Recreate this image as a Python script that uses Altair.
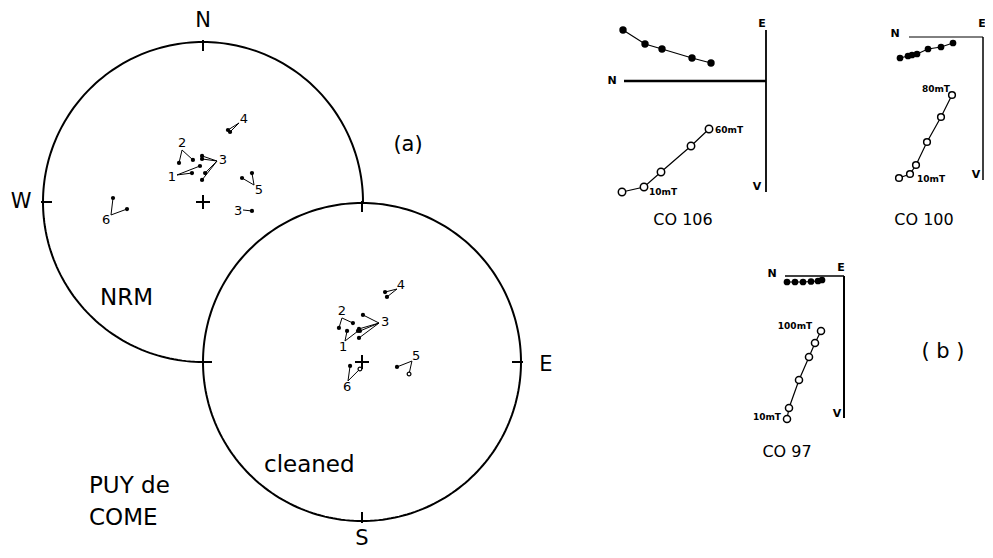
import numpy as np
import pandas as pd
import altair as alt

FONT = "DejaVu Sans"

# ---------------- Stereonet data (equal-area, unit radius; x = east, y = north) ----------------
# NRM directions
nrm_pt_site = ["1", "1", "2", "2", "3", "3", "3", "3", "4", "4", "5", "5", "3b", "6", "6"]
nrm_pt_x = [-0.069, -0.019, -0.150, -0.063, -0.006, -0.006, 0.013, -0.006, 0.156, 0.169, 0.244, 0.306, 0.306, -0.5625, -0.475]
nrm_pt_y = [0.181, 0.225, 0.244, 0.263, 0.288, 0.269, 0.181, 0.138, 0.450, 0.4375, 0.150, 0.181, -0.056, 0.025, -0.044]
nrm_pt_up = [False] * 15

# Cleaned directions
cln_pt_site = ["1", "1", "2", "2", "3", "3", "3", "3", "4", "4", "5", "5", "6", "6"]
cln_pt_x = [-0.094, -0.025, -0.145, -0.057, 0.006, -0.019, -0.013, -0.019, 0.145, 0.157, 0.220, 0.296, -0.075, -0.013]
cln_pt_y = [0.195, 0.195, 0.214, 0.245, 0.296, 0.208, 0.195, 0.151, 0.440, 0.409, -0.031, -0.075, -0.025, -0.044]
cln_pt_up = [False] * 11 + [True, False, True]

# Site labels (placement in net units) and leader-line ends
nrm_sites = ["1", "2", "3", "4", "5", "3b", "6"]
nrm_site_text = ["1", "2", "3", "4", "5", "3", "6"]
nrm_lab_x = [-0.194, -0.131, 0.125, 0.256, 0.350, 0.219, -0.606]
nrm_lab_y = [0.156, 0.369, 0.2625, 0.519, 0.075, -0.056, -0.1125]
nrm_end_x = [-0.1625, -0.131, 0.0875, 0.225, 0.319, 0.250, -0.575]
nrm_end_y = [0.169, 0.325, 0.256, 0.494, 0.106, -0.050, -0.081]

cln_sites = ["1", "2", "3", "4", "5", "6"]
cln_site_text = ["1", "2", "3", "4", "5", "6"]
cln_lab_x = [-0.119, -0.126, 0.145, 0.245, 0.340, -0.094]
cln_lab_y = [0.094, 0.321, 0.252, 0.484, 0.038, -0.157]
cln_end_x = [-0.107, -0.126, 0.107, 0.220, 0.314, -0.088]
cln_end_y = [0.132, 0.277, 0.245, 0.459, 0.006, -0.119]

# ---------------- Zijderveld data (arbitrary units) ----------------
co106_hN = [14.3, 12.1, 10.4, 7.4, 5.5]
co106_hE = [5.1, 3.7, 3.2, 2.3, 1.8]
co106_vN = [14.4, 12.2, 10.5, 7.5, 5.7]
co106_vD = [11.1, 10.6, 9.1, 6.5, 4.8]

co100_hN = [8.3, 7.5, 7.1, 6.6, 5.5, 4.2, 3.0]
co100_hE = [-2.1, -1.9, -1.8, -1.7, -1.2, -1.0, -0.6]
co100_vN = [8.4, 7.3, 6.7, 5.6, 4.2, 3.1]
co100_vD = [14.1, 13.7, 12.8, 10.5, 8.0, 5.8]

co97_hN = [5.7, 4.9, 4.1, 3.3, 2.6, 2.2]
co97_hE = [-0.6, -0.6, -0.6, -0.55, -0.5, -0.4]
co97_vN = [5.7, 5.5, 4.5, 3.5, 2.9, 2.3]
co97_vD = [14.3, 13.2, 10.4, 8.1, 6.7, 5.5]

# ---------------- Layout ----------------
NETS = {"NRM": (203, 202, 160), "cleaned": (362, 362, 159)}
K = 10  # px per Zijderveld unit
ZIJ = [
    dict(name="CO106", ox=766, oy=81, hN=co106_hN, hE=co106_hE, vN=co106_vN, vD=co106_vD,
         axN=14.2, axTop=5.1, axBot=11.1, wH=2.6, wV=1.8, hs=55, vs=55),
    dict(name="CO100", ox=983, oy=37, hN=co100_hN, hE=co100_hE, vN=co100_vN, vD=co100_vD,
         axN=7.4, axTop=0.0, axBot=14.3, wH=1.0, wV=1.5, hs=45, vs=45),
    dict(name="CO97", ox=844, oy=276, hN=co97_hN, hE=co97_hE, vN=co97_vN, vD=co97_vD,
         axN=5.9, axTop=0.0, axBot=14.2, wH=1.6, wV=2.0, hs=45, vs=50),
]

XS = alt.Scale(domain=[8, 985], nice=False, zero=False)
YS = alt.Scale(domain=[8, 550], nice=False, zero=False, reverse=True)


def P():
    return dict(x=alt.X("x:Q", scale=XS, axis=None), y=alt.Y("y:Q", scale=YS, axis=None))


def R2():
    return dict(x=alt.X("x:Q", scale=XS, axis=None), y=alt.Y("y:Q", scale=YS, axis=None),
                x2="x2:Q", y2="y2:Q", strokeWidth=alt.StrokeWidth("w:Q", scale=None))


def to_px(net, u, v):
    cx, cy, r = NETS[net]
    return cx + r * np.asarray(u), cy - r * np.asarray(v)


# circles
circ_rows = []
for net, a1 in [("NRM", 270), ("cleaned", 360)]:
    cx, cy, r = NETS[net]
    for i, a in enumerate(np.arange(0, a1 + 0.1, 1.5)):
        t = np.radians(a)
        circ_rows.append((net, i, cx + r * np.cos(t), cy - r * np.sin(t)))
circ = pd.DataFrame(circ_rows, columns=["net", "i", "x", "y"])

# ticks and centre crosses
rule_rows = []
for net, angs in [("NRM", [90, 180]), ("cleaned", [0, 90, 180, 270])]:
    cx, cy, r = NETS[net]
    for a in angs:
        t = np.radians(a)
        rule_rows.append((cx + (r + 2) * np.cos(t), cy - (r + 2) * np.sin(t),
                          cx + (r - 9) * np.cos(t), cy - (r - 9) * np.sin(t), 2.0))
    rule_rows.append((cx - 7, cy, cx + 7, cy, 2.0))
    rule_rows.append((cx, cy - 7, cx, cy + 7, 2.0))

# leader lines from site labels to points
pts_rows = []
lab_rows = []
for net, sites, stext, lx, ly, ex, ey, ps, px_, py_, pu in [
    ("NRM", nrm_sites, nrm_site_text, nrm_lab_x, nrm_lab_y, nrm_end_x, nrm_end_y,
     nrm_pt_site, nrm_pt_x, nrm_pt_y, nrm_pt_up),
    ("cleaned", cln_sites, cln_site_text, cln_lab_x, cln_lab_y, cln_end_x, cln_end_y,
     cln_pt_site, cln_pt_x, cln_pt_y, cln_pt_up),
]:
    X, Y = to_px(net, px_, py_)
    LX, LY = to_px(net, lx, ly)
    EX, EY = to_px(net, ex, ey)
    for k, s in enumerate(sites):
        lab_rows.append((stext[k], LX[k], LY[k]))
    for j in range(len(ps)):
        k = sites.index(ps[j])
        rule_rows.append((X[j], Y[j], EX[k], EY[k], 1.0))
        pts_rows.append((X[j], Y[j], pu[j]))
pts = pd.DataFrame(pts_rows, columns=["x", "y", "up"])
labs = pd.DataFrame(lab_rows, columns=["text", "x", "y"])

# Zijderveld
zl_rows, zf_rows, zo_rows = [], [], []
for z in ZIJ:
    ox, oy = z["ox"], z["oy"]
    rule_rows.append((ox - z["axN"] * K, oy, ox, oy, z["wH"]))
    rule_rows.append((ox, oy - z["axTop"] * K, ox, oy + z["axBot"] * K, z["wV"]))
    for i, (n, e) in enumerate(zip(z["hN"], z["hE"])):
        x, y = ox - n * K, oy - e * K
        zl_rows.append((z["name"] + "h", i, x, y))
        zf_rows.append((x, y, z["hs"]))
    for i, (n, d) in enumerate(zip(z["vN"], z["vD"])):
        x, y = ox - n * K, oy + d * K
        zl_rows.append((z["name"] + "v", i, x, y))
        zo_rows.append((x, y, z["vs"]))
zl = pd.DataFrame(zl_rows, columns=["s", "i", "x", "y"])
zf = pd.DataFrame(zf_rows, columns=["x", "y", "sz"])
zo = pd.DataFrame(zo_rows, columns=["x", "y", "sz"])

rules = pd.DataFrame(rule_rows, columns=["x", "y", "x2", "y2", "w"])


def txt(rows, size, weight="normal", align="center", baseline="middle"):
    df = pd.DataFrame(rows, columns=["text", "x", "y"])
    return alt.Chart(df).mark_text(font=FONT, fontSize=size, fontWeight=weight, align=align,
                                   baseline=baseline, color="black").encode(**P(), text="text:N")


layers = [
    alt.Chart(circ).mark_line(color="black", strokeWidth=2).encode(**P(), detail="net:N", order="i:Q"),
    alt.Chart(rules).mark_rule(color="black").encode(**R2()),
    alt.Chart(zl).mark_line(color="black", strokeWidth=1.2).encode(**P(), detail="s:N", order="i:Q"),
    alt.Chart(pts).transform_filter("!datum.up").mark_point(
        shape="circle", filled=True, color="black", size=18, opacity=1).encode(**P()),
    alt.Chart(pts).transform_filter("datum.up").mark_point(
        shape="circle", fill="white", stroke="black", strokeWidth=1.2, size=14, opacity=1,
        fillOpacity=1).encode(**P()),
    alt.Chart(zf).mark_point(shape="circle", filled=True, color="black", opacity=1).encode(
        **P(), size=alt.Size("sz:Q", scale=None)),
    alt.Chart(zo).mark_point(shape="circle", fill="white", stroke="black", strokeWidth=1.5,
                             opacity=1, fillOpacity=1).encode(**P(), size=alt.Size("sz:Q", scale=None)),
    alt.Chart(labs).mark_text(font=FONT, fontSize=13, color="black", baseline="middle").encode(
        **P(), text="text:N"),
    # compass letters and panel marks
    txt([("N", 203, 27), ("W", 21, 208), ("E", 546, 371), ("S", 362, 545)], 21, baseline="alphabetic"),
    txt([("(a)", 408, 145), ("( b )", 943, 352)], 21),
    txt([("NRM", 100, 305), ("cleaned", 264, 472), ("PUY de", 89, 493), ("COME", 89, 525)], 23,
        align="left", baseline="alphabetic"),
    txt([("CO 106", 683, 225), ("CO 100", 924, 225), ("CO 97", 787, 457)], 16, baseline="alphabetic"),
    txt([("N", 612, 81), ("E", 762, 24), ("V", 757, 187),
         ("N", 895, 34), ("E", 982, 24), ("V", 976, 175),
         ("N", 772, 274), ("E", 841, 268), ("V", 837, 414)], 11, weight="bold"),
    txt([("60mT", 715, 130), ("10mT", 649, 192), ("10mT", 917, 179)], 9, weight="bold", align="left"),
    txt([("80mT", 950, 89), ("10mT", 781, 417)], 9, weight="bold", align="right"),
    txt([("100mT", 795, 326)], 9, weight="bold"),
]

chart = alt.layer(*layers).properties(
    width=977, height=542, padding=0, background="white",
    autosize=alt.AutoSizeParams(type="none"),
).configure_view(stroke=None)

chart.save("out.html", embed_options={"renderer": "svg", "actions": False})
